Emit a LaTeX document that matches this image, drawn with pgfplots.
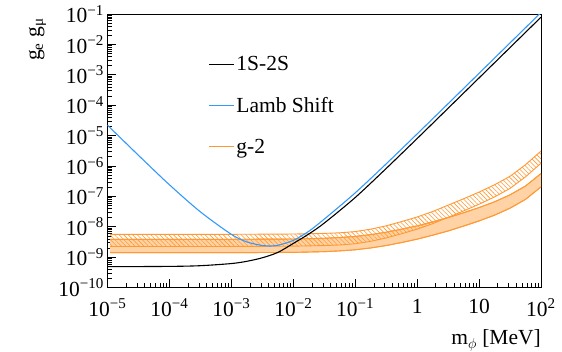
\documentclass[border=0pt]{standalone}
\usepackage{fontspec}
\setmainfont{Liberation Serif}
\usepackage{pgfplots}
\pgfplotsset{compat=1.18}
\usepackage{pgfplotstable}
\usepgfplotslibrary{fillbetween}
\usetikzlibrary{patterns.meta}
\definecolor{lineor}{RGB}{255,153,51}
\definecolor{fillor}{RGB}{255,211,165}
\definecolor{lblue}{RGB}{51,153,255}

\pgfplotstableread{
x lo hi
1.1e-5 2.24e-9 5.62e-9
1e-3 2.24e-9 5.62e-9
1e-2 2.29e-9 5.75e-9
0.0316 2.40e-9 6.03e-9
0.0562 2.51e-9 6.31e-9
0.1 2.75e-9 6.92e-9
0.178 3.31e-9 8.32e-9
0.316 4.27e-9 1.07e-8
0.562 5.89e-9 1.48e-8
1 8.32e-9 2.09e-8
1.778 1.26e-8 3.16e-8
3.162 2.04e-8 5.13e-8
5.623 3.31e-8 8.32e-8
10 5.50e-8 1.38e-7
17.78 9.55e-8 2.40e-7
31.62 1.82e-7 4.57e-7
56.23 4.37e-7 1.10e-6
100 1.23e-6 3.09e-6
}\hatchtab

\pgfplotstableread{
x lo hi
1.1e-5 1.40e-9 3.85e-9
1e-3 1.40e-9 3.85e-9
1e-2 1.43e-9 3.94e-9
0.0316 1.51e-9 4.17e-9
0.0562 1.60e-9 4.42e-9
0.1 1.74e-9 4.79e-9
0.178 2.00e-9 5.50e-9
0.316 2.40e-9 6.61e-9
0.562 3.02e-9 8.32e-9
1 3.89e-9 1.07e-8
1.778 5.25e-9 1.45e-8
3.162 7.24e-9 2.00e-8
5.623 1.05e-8 2.88e-8
10 1.55e-8 4.27e-8
17.78 2.40e-8 6.61e-8
31.62 4.07e-8 1.12e-7
56.23 7.94e-8 2.19e-7
100 2.04e-7 5.62e-7
}\filltab

\pgfplotstableread{
x y
1e-5 4.84e-10
1e-4 4.95e-10
3.162e-4 5.22e-10
1e-3 6.14e-10
1.778e-3 7.28e-10
3.162e-3 9.51e-10
5.623e-3 1.426e-9
1e-2 2.818e-9
1.778e-2 5.75e-9
3.162e-2 1.318e-8
0.1 9.14e-8
0.3162 8.26e-7
1 7.98e-6
3.162 7.91e-5
10 7.89e-4
31.62 7.87e-3
100 7.87e-2
}\onestab

\pgfplotstableread{
x y
1e-5 2.19e-5
3.162e-5 2.24e-6
1e-4 2.40e-7
3.162e-4 3.09e-8
1e-3 5.62e-9
1.778e-3 3.162e-9
3.162e-3 2.40e-9
3.98e-3 2.32e-9
5.623e-3 2.45e-9
1e-2 3.55e-9
1.778e-2 7.08e-9
3.162e-2 1.78e-8
0.1 1.30e-7
0.3162 1.17e-6
1 1.135e-5
3.162 1.12e-4
10 1.12e-3
31.62 1.12e-2
100 1.12e-1
}\lambtab

\begin{document}
\begin{tikzpicture}[font=\fontsize{21.5}{25}\selectfont\rmfamily]
\begin{axis}[
  name=ax,
  scale only axis,
  width=433.5pt, height=273.5pt,
  xmode=log, ymode=log,
  xmin=1e-5, xmax=100, ymin=1e-10, ymax=1e-1,
  axis line style={line width=0.8pt},
  tick align=inside, tick pos=left,
  major tick length=9pt, minor tick length=5pt,
  every tick/.style={black, line width=0.6pt},
  xtick={1e-5,1e-4,1e-3,1e-2,1e-1,1,10,100},
  xticklabels={10\textsuperscript{−5},10\textsuperscript{−4},10\textsuperscript{−3},10\textsuperscript{−2},10\textsuperscript{−1},1,10,10\textsuperscript{2}},
  xticklabel style={yshift=-8pt},
  ytick={1e-10,1e-9,1e-8,1e-7,1e-6,1e-5,1e-4,1e-3,1e-2,1e-1},
  yticklabels={10\textsuperscript{−10},10\textsuperscript{−9},10\textsuperscript{−8},10\textsuperscript{−7},10\textsuperscript{−6},10\textsuperscript{−5},10\textsuperscript{−4},10\textsuperscript{−3},10\textsuperscript{−2},10\textsuperscript{−1}},
  minor xtick={2e-5,3e-5,4e-5,5e-5,6e-5,7e-5,8e-5,9e-5,2e-4,3e-4,4e-4,5e-4,6e-4,7e-4,8e-4,9e-4,2e-3,3e-3,4e-3,5e-3,6e-3,7e-3,8e-3,9e-3,2e-2,3e-2,4e-2,5e-2,6e-2,7e-2,8e-2,9e-2,0.2,0.3,0.4,0.5,0.6,0.7,0.8,0.9,2,3,4,5,6,7,8,9,20,30,40,50,60,70,80,90},
  minor ytick={2e-10,3e-10,4e-10,5e-10,6e-10,7e-10,8e-10,9e-10,2e-9,3e-9,4e-9,5e-9,6e-9,7e-9,8e-9,9e-9,2e-8,3e-8,4e-8,5e-8,6e-8,7e-8,8e-8,9e-8,2e-7,3e-7,4e-7,5e-7,6e-7,7e-7,8e-7,9e-7,2e-6,3e-6,4e-6,5e-6,6e-6,7e-6,8e-6,9e-6,2e-5,3e-5,4e-5,5e-5,6e-5,7e-5,8e-5,9e-5,2e-4,3e-4,4e-4,5e-4,6e-4,7e-4,8e-4,9e-4,2e-3,3e-3,4e-3,5e-3,6e-3,7e-3,8e-3,9e-3,2e-2,3e-2,4e-2,5e-2,6e-2,7e-2,8e-2,9e-2},
  xlabel={m$_\phi$ [MeV]},
  xlabel style={at={(rel axis cs:1,-0.21)}, anchor=base east, inner sep=0pt},
  ylabel={g\textsubscript{e} g\textsubscript{μ}},
  ylabel style={at={(rel axis cs:-0.156,0.985)}, anchor=base east, inner sep=0pt},
  legend style={at={(rel axis cs:0.225,0.86)}, anchor=north west, draw=none, fill=none, row sep=21pt, nodes={inner sep=2pt}},
  legend cell align=left,
  legend image code/.code={\draw[#1, line width=1.2pt] (0pt,0pt) -- (25pt,0pt);},
  clip=true,
]
% g-2 filled band
\addplot[name path=flo, draw=lineor, line width=0.9pt, forget plot] table[x=x,y=lo]{\filltab};
\addplot[name path=fhi, draw=lineor, line width=0.9pt, forget plot] table[x=x,y=hi]{\filltab};
\addplot[fill=fillor, draw=none, forget plot] fill between[of=flo and fhi];
\addplot[draw=lineor, line width=0.9pt, forget plot] table[x=x,y=lo]{\filltab};
\addplot[draw=lineor, line width=0.9pt, forget plot] table[x=x,y=hi]{\filltab};
% g-2 hatched band
\addplot[name path=hlo, draw=lineor, line width=0.9pt, forget plot] table[x=x,y=lo]{\hatchtab};
\addplot[name path=hhi, draw=lineor, line width=0.9pt, forget plot] table[x=x,y=hi]{\hatchtab};
\addplot[pattern={Lines[angle=-45,distance=3.2pt,line width=0.6pt]}, pattern color=lineor, draw=none, forget plot] fill between[of=hlo and hhi];
% curves
\addplot[black, line width=1.1pt, smooth] table[x=x,y=y]{\onestab};
\addlegendentry{1S-2S}
\addplot[lblue, line width=1.1pt, smooth] table[x=x,y=y]{\lambtab};
\addlegendentry{Lamb Shift}
\addlegendimage{lineor, line width=1.2pt}
\addlegendentry{g-2}
\end{axis}
\path ([xshift=-107.5pt,yshift=-63.5pt]ax.south west) rectangle ([xshift=21pt,yshift=14pt]ax.north east);
\end{tikzpicture}
\end{document}
